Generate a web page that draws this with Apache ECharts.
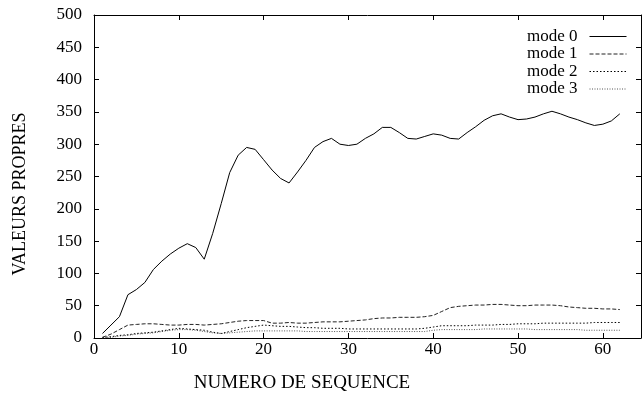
<!DOCTYPE html>
<html>
<head>
<meta charset="utf-8">
<script src="https://cdn.jsdelivr.net/npm/echarts@6/dist/echarts.min.js"></script>
<style>
html,body{margin:0;padding:0;background:#fff;}
#chart{width:642px;height:400px;}
</style>
</head>
<body>
<div id="chart"></div>
<script>
var seq = [1,2,3,4,5,6,7,8,9,10,11,12,13,14,15,16,17,18,19,20,21,22,23,24,25,26,27,28,29,30,31,32,33,34,35,36,37,38,39,40,41,42,43,44,45,46,47,48,49,50,51,52,53,54,55,56,57,58,59,60,61,62];
var mode0 = [7,20,33,67,75,86,106,119,130,139,146,140,122,162,208,256,283,295,292,276,260,247,240,257,275,295,304,309,300,298,300,309,316,326,326,318,309,308,312,316,314,309,308,318,327,337,344,347,342,338,339,342,347,351,347,342,338,333,329,331,336,347];
var mode1 = [1,6,13,20,21,22,22,21,20,20,21,21,20,21,22,24,26,27,27,27,23,23,24,23,23,24,25,25,25,26,27,28,30,31,31,32,32,32,33,35,41,47,49,50,51,51,52,52,51,50,50,51,51,51,50,48,47,46,46,45,45,44];
var mode2 = [1,2,4,5,7,8,9,11,13,15,14,13,12,9,7,10,13,16,18,20,19,18,18,17,16,16,15,15,15,14,14,14,14,14,14,14,14,14,15,17,19,19,19,19,20,20,20,21,21,22,22,22,23,23,23,23,23,23,24,24,24,24];
var mode3 = [0,1,3,4,6,7,8,10,12,13,13,12,10,8,7,8,9,10,11,11,11,11,11,11,10,10,10,10,10,10,10,10,10,10,10,10,10,10,10,12,13,13,13,13,13,14,14,14,14,14,14,13,13,13,13,13,13,12,12,12,12,12];
var seriesNames = ['mode 0','mode 1','mode 2','mode 3'];
var xTitle = 'NUMERO DE SEQUENCE';
var yTitle = 'VALEURS PROPRES';

function pairs(vals){ return seq.map(function(s,i){ return [s, vals[i]]; }); }

var FONT = 'Liberation Serif';
var styles = [
  {color:'#000', type:'solid'},
  {color:'#222', type:[4,2]},
  {color:'#000', type:[1.5,2]},
  {color:'#555', type:[1,1.5]}
];
var allVals = [mode0, mode1, mode2, mode3];

var chart = echarts.init(document.getElementById('chart'), null, {renderer:'canvas'});
function axisCommon(){
  return {
    axisLine:{show:true, onZero:false, lineStyle:{color:'#000', width:1}},
    axisTick:{show:true, inside:true, length:5, lineStyle:{color:'#000', width:1}},
    splitLine:{show:false}
  };
}
chart.setOption({
  animation:false,
  backgroundColor:'#fff',
  grid:{left:94, right:1, top:15, bottom:62},
  legend:{
    orient:'vertical', right:15, top:28, align:'right', padding:0,
    itemWidth:37, itemHeight:10, itemGap:0.5,
    itemStyle:{opacity:0},
    lineStyle:{width:1},
    textStyle:{fontFamily:FONT, fontSize:17, lineHeight:15, color:'#000', padding:[0,7,0,0]},
    data:seriesNames
  },
  xAxis:[
    Object.assign({type:'value', min:0, max:64.5, interval:10,
      axisLabel:{showMaxLabel:false, fontFamily:FONT, fontSize:17, color:'#000', margin:3}}, axisCommon()),
    Object.assign({type:'value', position:'top', min:0, max:64.5, interval:10,
      axisLabel:{show:false}}, axisCommon())
  ],
  yAxis:[
    Object.assign({type:'value', min:0, max:500, interval:50,
      axisLabel:{fontFamily:FONT, fontSize:17, color:'#000', margin:12}}, axisCommon()),
    Object.assign({type:'value', position:'right', min:0, max:500, interval:50,
      axisLabel:{show:false}}, axisCommon())
  ],
  graphic:[
    {type:'text', x:20, y:194, rotation:Math.PI/2,
     style:{text:yTitle, font:'18px "Liberation Serif"', fill:'#000', align:'center', verticalAlign:'middle'}},
    {type:'text', x:302, y:383,
     style:{text:xTitle, font:'19px "Liberation Serif"', fill:'#000', align:'center', verticalAlign:'middle'}}
  ],
  series: seriesNames.map(function(n, k){
    return {
      name:n, type:'line', xAxisIndex:0, yAxisIndex:0,
      data:pairs(allVals[k]), symbol:'none', showSymbol:false,
      lineStyle:{color:styles[k].color, width:1, type:styles[k].type},
      itemStyle:{color:styles[k].color},
      z: 10 - k
    };
  })
});
</script>
</body>
</html>
